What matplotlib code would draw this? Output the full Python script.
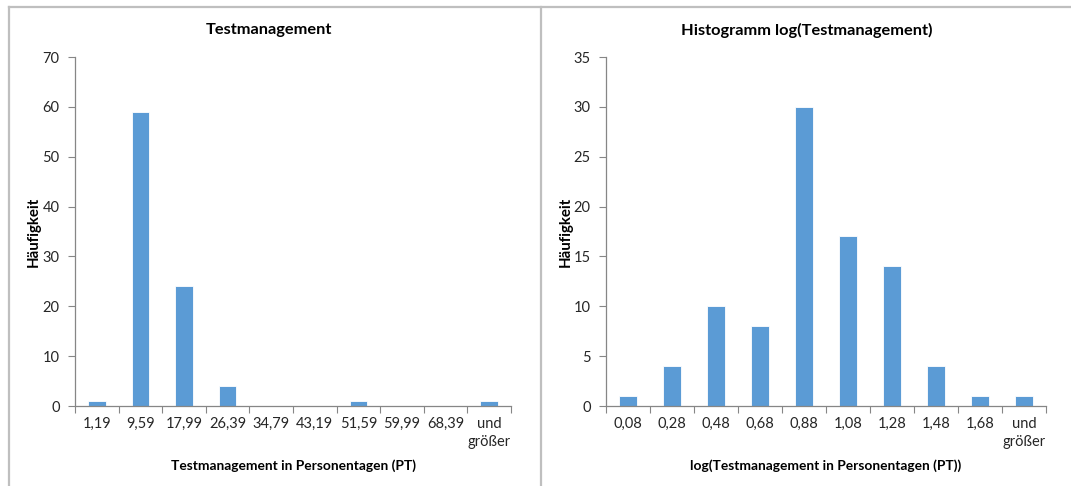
import matplotlib
matplotlib.use("Agg")
import matplotlib.pyplot as plt
from matplotlib.lines import Line2D
import numpy as np

plt.rcParams['font.family'] = ['Lato', 'DejaVu Sans']

# Data
left_categories = ["1,19", "9,59", "17,99", "26,39", "34,79", "43,19", "51,59", "59,99", "68,39", "und\ngrößer"]
left_values = [1, 59, 24, 4, 0, 0, 1, 0, 0, 1]
left_title = "Testmanagement"
left_xlabel = "Testmanagement in Personentagen (PT)"
left_yticks = [0, 10, 20, 30, 40, 50, 60, 70]

right_categories = ["0,08", "0,28", "0,48", "0,68", "0,88", "1,08", "1,28", "1,48", "1,68", "und\ngrößer"]
right_values = [1, 4, 10, 8, 30, 17, 14, 4, 1, 1]
right_title = "Histogramm log(Testmanagement)"
right_xlabel = "log(Testmanagement in Personentagen (PT))"
right_yticks = [0, 5, 10, 15, 20, 25, 30, 35]

ylabel = "Häufigkeit"

W, H = 1071, 486
fig = plt.figure(figsize=(W / 100, H / 100), dpi=100)

BAR = "#5B9BD5"
AX = "#868686"
BORDER = "#BFBFBF"

def fx(px):
    return px / W

def fy(py):
    return 1 - py / H

def draw(ax_rect, cats, vals, yticks, title, xlabel, ylabel_x, title_x):
    x0, y0, x1, y1 = ax_rect
    ax = fig.add_axes([fx(x0), fy(y1), fx(x1) - fx(x0), fy(y0) - fy(y1)])
    n = len(cats)
    pos = np.arange(n)
    ax.bar(pos, vals, width=0.4, color=BAR, edgecolor="white", linewidth=0.6, zorder=2)
    ax.set_xlim(-0.5, n - 0.5)
    ax.set_ylim(0, yticks[-1])
    ax.set_yticks(yticks)
    ax.set_yticklabels([str(t) for t in yticks], fontsize=10.5, color="#262626")
    ax.set_xticks(pos)
    ax.set_xticklabels(cats, fontsize=10.5, color="#262626", linespacing=1.35, va="top")
    ax.set_xticks(np.arange(n + 1) - 0.5, minor=True)
    ax.tick_params(axis="x", which="major", length=0, pad=8)
    ax.tick_params(axis="x", which="minor", length=5, color=AX, width=0.8, direction="out")
    ax.tick_params(axis="y", length=5, color=AX, width=0.8, direction="out", pad=6)
    for s in ["top", "right"]:
        ax.spines[s].set_visible(False)
    for s in ["left", "bottom"]:
        ax.spines[s].set_color(AX)
        ax.spines[s].set_linewidth(0.9)
    fig.text(fx(title_x), fy(30), title, ha="center", va="center", fontsize=11.8, fontweight="bold", color="black")
    fig.text(fx((x0 + x1) / 2), fy(466), xlabel, ha="center", va="center", fontsize=9.9, fontweight="bold", color="black")
    fig.text(fx(ylabel_x), fy((y0 + y1) / 2), ylabel, ha="center", va="center", rotation=90, fontsize=10.8, fontweight="bold", color="black")
    return ax

draw((75, 57, 511, 406), left_categories, left_values, left_yticks, left_title, left_xlabel, 34, 269)
draw((606, 57, 1046, 406), right_categories, right_values, right_yticks, right_title, right_xlabel, 566, 807)

# panel borders
for (xa, ya, xb, yb) in [(9, 7.5, 1071, 7.5), (9, 7.5, 9, 486), (541, 7.5, 541, 486)]:
    fig.add_artist(Line2D([fx(xa), fx(xb)], [fy(ya), fy(yb)], color=BORDER, linewidth=1.6))

fig.savefig("out.png", dpi=100)
